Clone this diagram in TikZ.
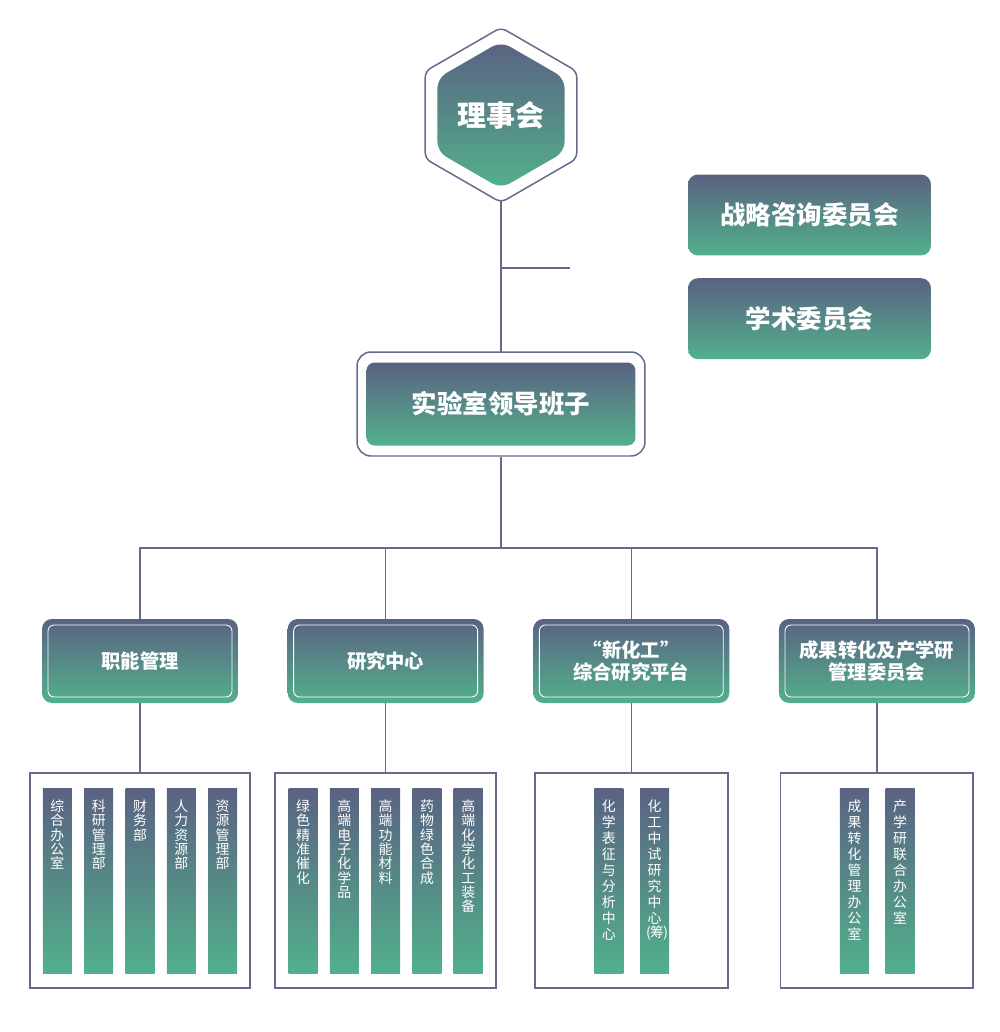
\documentclass[tikz,border=0pt]{standalone}
\usepackage{fontspec}
\setmainfont{Noto Sans CJK SC}
\usetikzlibrary{positioning,shapes.geometric,backgrounds}
\definecolor{topC}{RGB}{90,98,130}
\definecolor{botC}{RGB}{82,176,140}
\definecolor{lineC}{RGB}{102,106,142}
\tikzset{>=latex,
  grad/.style={top color=topC, bottom color=botC, text=white, inner sep=0pt},
  conn/.style={draw=lineC, line width=0.85pt},
  hexa/.style={regular polygon, regular polygon sides=6, shape border rotate=90},
  sidebox/.style={grad, rounded corners=0.2cm, minimum width=4.86cm, minimum height=1.62cm, font=\bfseries\fontsize{14.5}{16}\selectfont},
  lvbox/.style={grad, rounded corners=0.2cm, minimum width=3.92cm, minimum height=1.68cm, align=center, font=\bfseries\fontsize{11}{12.5}\selectfont},
  lvin/.style={draw=white, line width=0.5pt, rounded corners=0.12cm, minimum width=3.68cm, minimum height=1.44cm},
  cbox/.style={draw=lineC, line width=1.1pt, minimum height=4.3cm},
  strip/.style={grad, minimum width=0.58cm, font=\fontsize{7.9}{8.1}\selectfont}
}
\newcommand\vtxt[2][8.15pt]{\parbox[c][3.7cm][t]{1.2em}{\centering\baselineskip=#1\lineskiplimit=-\maxdimen\vspace*{0.23cm}#2}}

\begin{document}
\begin{tikzpicture}[x=0.02cm, y=-0.02cm]
  \useasboundingbox (0,0) rectangle (1000,1032);
  % top
  \node[hexa, draw=lineC, line width=0.85pt, fill=white, rounded corners=0.12cm, minimum size=3.5cm] (hexOut) at (501,115) {};
  \node[hexa, grad, rounded corners=0.2cm, minimum size=2.94cm, font=\bfseries\fontsize{16.5}{19}\selectfont] (hex) at (hexOut) {理事会};
  \node[sidebox] (strat) at (809.5,215) {战略咨询委员会};
  \node[sidebox, below=0.44cm of strat] (acad) {学术委员会};
  \node[draw=lineC, line width=0.85pt, fill=white, rounded corners=0.28cm, minimum width=5.76cm, minimum height=2.08cm] (leadOut) at (501,404) {};
  \node[grad, rounded corners=0.16cm, minimum width=5.38cm, minimum height=1.66cm, font=\bfseries\fontsize{14.5}{16}\selectfont] (lead) at (leadOut) {实验室领导班子};
  % level boxes
  \node[lvbox] (lv1) at (140,661) {职能管理};
  \node[lvbox, right=0.98cm of lv1] (lv2) {研究中心};
  \node[lvbox, right=0.98cm of lv2] (lv3) {“新化工”\\综合研究平台};
  \node[lvbox, right=0.98cm of lv3] (lv4) {成果转化及产学研\\管理委员会};
  \node[lvin] at (lv1) (lv1in) {};
  \node[lvin] at (lv2) (lv2in) {};
  \node[lvin] at (lv3) (lv3in) {};
  \node[lvin] at (lv4) (lv4in) {};
  % containers
  \node[cbox, minimum width=4.4cm, below=1.38cm of lv1] (c1) {};
  \node[cbox, minimum width=4.42cm, below=1.38cm of lv2] (c2) {};
  \node[cbox, minimum width=3.86cm, below=1.38cm of lv3] (c3) {};
  \node[cbox, minimum width=3.86cm, below=1.38cm of lv4] (c4) {};
  % strips
  \node[strip] (s13) at (c1) {\vtxt{财\\务\\部}};
  \node[strip, left=0.232cm of s13] (s12) {\vtxt{科\\研\\管\\理\\部}};
  \node[strip, left=0.232cm of s12] (s11) {\vtxt{综\\合\\办\\公\\室}};
  \node[strip, right=0.232cm of s13] (s14) {\vtxt{人\\力\\资\\源\\部}};
  \node[strip, right=0.232cm of s14] (s15) {\vtxt{资\\源\\管\\理\\部}};
  \node[strip] (s23) at (c2) {\vtxt{高\\端\\功\\能\\材\\料}};
  \node[strip, left=0.232cm of s23] (s22) {\vtxt{高\\端\\电\\子\\化\\学\\品}};
  \node[strip, left=0.232cm of s22] (s21) {\vtxt{绿\\色\\精\\准\\催\\化}};
  \node[strip, right=0.232cm of s23] (s24) {\vtxt{药\\物\\绿\\色\\合\\成}};
  \node[strip, right=0.232cm of s24] (s25) {\vtxt{高\\端\\化\\学\\化\\工\\装\\备}};
  \node[strip] (s31) at ([xshift=-0.45cm]c3.center) {\vtxt[9.1pt]{化\\学\\表\\征\\与\\分\\析\\中\\心}};
  \node[strip, right=0.32cm of s31] (s32) {\vtxt[9.1pt]{化\\工\\中\\试\\研\\究\\中\\心\\\kern-0.1em(\kern-0.05em筹\kern-0.05em)\kern-0.1em}};
  \node[strip] (s41) at ([xshift=-0.45cm]c4.center) {\vtxt[9.1pt]{成\\果\\转\\化\\管\\理\\办\\公\\室}};
  \node[strip, right=0.32cm of s41] (s42) {\vtxt[9.1pt]{产\\学\\研\\联\\合\\办\\公\\室}};
  % lines
  \begin{scope}[on background layer]
    \draw[conn] (hexOut.center) -- (leadOut.center);
  \end{scope}
  \coordinate (brEnd) at (570,268);
  \draw[conn] (hexOut.center |- brEnd) -- (brEnd);
  \coordinate (bus) at (501,548);
  \draw[conn] (leadOut.south) -- (bus);
  \draw[conn] (lv1.north) |- (bus) -| (lv4.north);
  \draw[conn] (lv2.north) -- (lv2.north |- bus);
  \draw[conn] (lv3.north) -- (lv3.north |- bus);
  \draw[conn] (lv1.south) -- (c1.north);
  \draw[conn] (lv2.south) -- (c2.north);
  \draw[conn] (lv3.south) -- (c3.north);
  \draw[conn] (lv4.south) -- (c4.north);
\end{tikzpicture}
\end{document}
